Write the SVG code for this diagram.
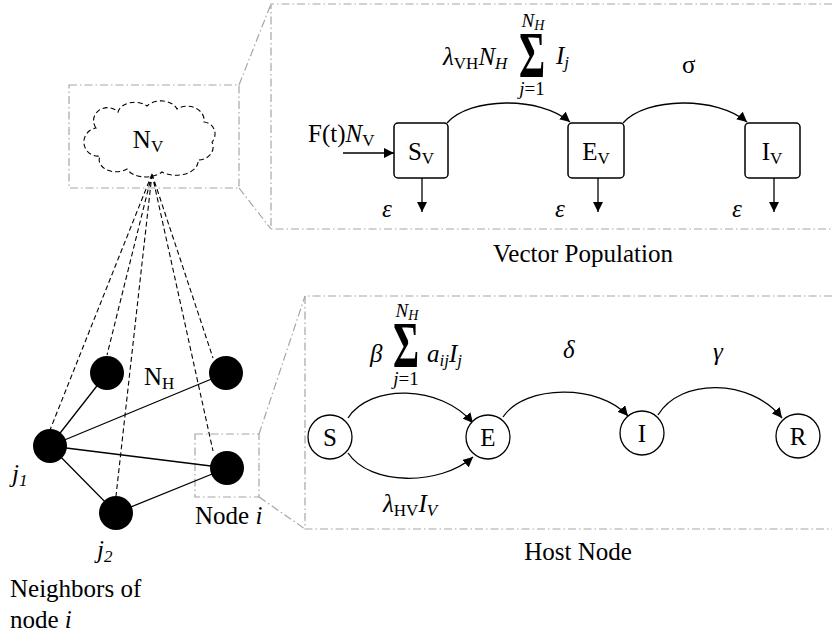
<svg xmlns="http://www.w3.org/2000/svg" width="833" height="638" viewBox="0 0 833 638">
<defs>
<style>
.t{font-family:"Liberation Serif","Times New Roman",serif;font-size:25px;fill:#000}
.i{font-style:italic}
.sub{font-size:17px}
.sm{font-size:19px}
.smsub{font-size:14px}
.sig{font-size:38px;font-weight:bold}
.frame{fill:none;stroke:#a6a6a6;stroke-width:1.2;stroke-dasharray:8 3 1.5 3}
.edge{fill:none;stroke:#000;stroke-width:1.3}
.dash{fill:none;stroke:#000;stroke-width:1.1;stroke-dasharray:5 3}
.box{fill:#fff;stroke:#000;stroke-width:1.5}
.hn{fill:#fff;stroke:#000;stroke-width:1.3}
.dot{fill:#000}
</style>
<marker id="ah" viewBox="0 0 10 10" refX="10" refY="5" markerWidth="10" markerHeight="10" markerUnits="userSpaceOnUse" orient="auto">
<path d="M0,0 L10,5 L0,10 z" fill="#000"/>
</marker>
</defs>

<g id="frames">
<rect class="frame" x="69" y="85" width="170" height="103"/>
<path class="frame" d="M239,85 L271,4 M239,188 L271,229"/>
<path class="frame" d="M832,4 H271 V229 H832"/>
<rect class="frame" x="195" y="434" width="64" height="63"/>
<path class="frame" d="M259,434 L305,296 M259,497 L305,529"/>
<path class="frame" d="M832,296 H305 V529 H832"/>
</g>

<g id="connectors">
<path class="dash" d="M152,174 L50,430 M152,174 L107,355 M152,174 L116,496 M152,174 L213,358 M152,174 L213,451"/>
<path class="edge" d="M50,446 L107,373 M50,446 L226,373 M50,446 L227,468 M50,446 L116,513 M116,513 L227,468"/>
<path class="edge" d="M343,153 L394,153" marker-end="url(#ah)"/>
<path class="edge" d="M447,123 C470,97 540,96 570,122" marker-end="url(#ah)"/>
<path class="edge" d="M623,123 C646,97 717,96 747,122" marker-end="url(#ah)"/>
<path class="edge" d="M422,178 V212" marker-end="url(#ah)"/>
<path class="edge" d="M598,178 V212" marker-end="url(#ah)"/>
<path class="edge" d="M774,178 V212" marker-end="url(#ah)"/>
<path class="edge" d="M348,418 C370,384 440,384 473,423" marker-end="url(#ah)"/>
<path class="edge" d="M348,453 C370,486 440,486 473,457" marker-end="url(#ah)"/>
<path class="edge" d="M503,417 C525,384 600,384 628,416" marker-end="url(#ah)"/>
<path class="edge" d="M658,415 C680,378 750,378 782,418" marker-end="url(#ah)"/>
</g>

<g id="cloud-NV">
<path class="dash" stroke-width="1.6" d="M96,128 A14,13 0 0 1 118,112 A17,12 0 0 1 147,106 A17,12 0 0 1 177,109 A17,14 0 0 1 204,122 A12,12 0 0 1 212,142 A15,13 0 0 1 198,160 A22,14 0 0 1 162,172 A20,12 0 0 1 127,169 A17,12 0 0 1 100,156 A12,12 0 0 1 96,128 Z"/>
<text class="t" x="148" y="148" text-anchor="middle">N<tspan class="sub" dy="4">V</tspan></text>
</g>

<g id="host-network">
<circle id="nA" class="dot" cx="107" cy="373" r="17"/>
<circle id="nB" class="dot" cx="226" cy="373" r="17"/>
<circle id="j1" class="dot" cx="50" cy="446" r="17"/>
<circle id="nodei" class="dot" cx="227" cy="468" r="17"/>
<circle id="j2" class="dot" cx="116" cy="513" r="17"/>
<text class="t" x="144" y="385">N<tspan class="sub" dy="4">H</tspan></text>
<text class="t i" x="12" y="482">j<tspan class="sub" dy="4">1</tspan></text>
<text class="t i" x="97" y="558">j<tspan class="sub" dy="4">2</tspan></text>
<text class="t" x="195" y="524">Node <tspan class="i">i</tspan></text>
<text class="t" x="10" y="597">Neighbors of</text>
<text class="t" x="10" y="628">node <tspan class="i">i</tspan></text>
</g>

<g id="vector-SV">
<rect class="box" x="394" y="123" width="54" height="55" rx="4"/>
<text class="t" x="421" y="160" text-anchor="middle">S<tspan class="sub" dy="4">V</tspan></text>
</g>
<g id="vector-EV">
<rect class="box" x="568" y="123" width="56" height="55" rx="4"/>
<text class="t" x="596" y="160" text-anchor="middle">E<tspan class="sub" dy="4">V</tspan></text>
</g>
<g id="vector-IV">
<rect class="box" x="745" y="123" width="55" height="55" rx="4"/>
<text class="t" x="772" y="160" text-anchor="middle">I<tspan class="sub" dy="4">V</tspan></text>
</g>

<g id="vector-labels">
<text class="t" x="308" y="142">F(t)<tspan class="i">N</tspan><tspan class="sub" dy="4">V</tspan></text>
<text class="t" x="443" y="65"><tspan class="i">λ</tspan><tspan class="sub" dy="4">VH</tspan><tspan class="i" dy="-4">N</tspan><tspan class="i sub" dy="4">H</tspan></text>
<text class="t sig" transform="translate(519,77) scale(1.05,1.72)">Σ</text>
<text class="t i sm" x="533" y="27" text-anchor="middle">N<tspan class="smsub" dy="3">H</tspan></text>
<text class="t sm" x="532" y="95" text-anchor="middle"><tspan class="i">j</tspan>=1</text>
<text class="t i" x="556" y="64">I<tspan class="sub" dy="4">j</tspan></text>
<text class="t" x="682" y="73">σ</text>
<text class="t i" x="382" y="217">ε</text>
<text class="t i" x="555" y="217">ε</text>
<text class="t i" x="732" y="217">ε</text>
<text class="t" x="583" y="262" text-anchor="middle">Vector Population</text>
</g>

<g id="host-S"><circle class="hn" cx="330" cy="437" r="22"/><text class="t" x="330" y="446" text-anchor="middle">S</text></g>
<g id="host-E"><circle class="hn" cx="488" cy="437" r="22"/><text class="t" x="488" y="446" text-anchor="middle">E</text></g>
<g id="host-I"><circle class="hn" cx="642" cy="433" r="22"/><text class="t" x="642" y="442" text-anchor="middle">I</text></g>
<g id="host-R"><circle class="hn" cx="798" cy="436" r="22"/><text class="t" x="798" y="445" text-anchor="middle">R</text></g>

<g id="host-labels">
<text class="t i" x="370" y="362">β</text>
<text class="t sig" transform="translate(393,367) scale(1.05,1.72)">Σ</text>
<text class="t i sm" x="407" y="317" text-anchor="middle">N<tspan class="smsub" dy="3">H</tspan></text>
<text class="t sm" x="406" y="385" text-anchor="middle"><tspan class="i">j</tspan>=1</text>
<text class="t i" x="427" y="362">a<tspan class="sub" dy="4">ij</tspan><tspan dy="-4">I</tspan><tspan class="sub" dy="4">j</tspan></text>
<text class="t i" x="563" y="358">δ</text>
<text class="t i" x="713" y="360">γ</text>
<text class="t" x="383" y="512"><tspan class="i">λ</tspan><tspan class="sub" dy="4">HV</tspan><tspan class="i" dy="-4">I</tspan><tspan class="i sub" dy="4">V</tspan></text>
<text class="t" x="578" y="560" text-anchor="middle">Host Node</text>
</g>
</svg>
